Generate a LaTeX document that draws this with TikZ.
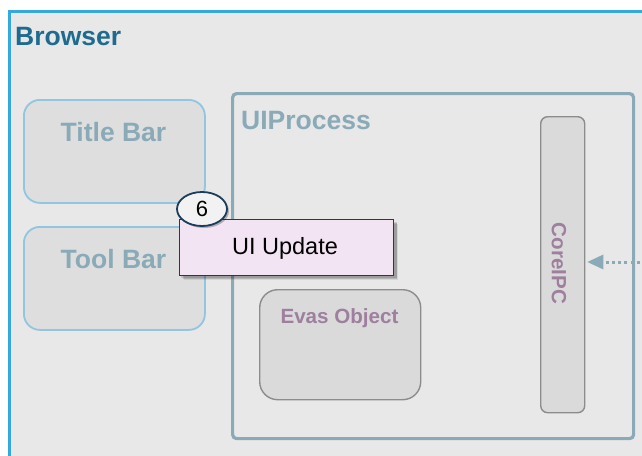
\documentclass[tikz,border=0pt]{standalone}
\usepackage{fontspec}
\setmainfont{Liberation Sans}
\usetikzlibrary{shadows,arrows.meta,shapes.geometric}
\definecolor{bgfill}{HTML}{E8E8E8}
\definecolor{outerblue}{HTML}{35A8DE}
\definecolor{browsertxt}{HTML}{1E6B8F}
\definecolor{barline}{HTML}{92C5DE}
\definecolor{boxfill}{HTML}{DEDEDE}
\definecolor{procline}{HTML}{8AAAB8}
\definecolor{grayline}{HTML}{8C8C8C}
\definecolor{innerfill}{HTML}{DADADA}
\definecolor{purptxt}{HTML}{9E809E}
\definecolor{navy}{HTML}{1A3D5C}
\definecolor{pinkfill}{HTML}{F3E4F3}
\definecolor{circfill}{HTML}{F2F2F2}
\begin{document}
\begin{tikzpicture}[x=1pt,y=-1pt,
  barbox/.style={draw=barline, line width=1.8pt, fill=boxfill, rounded corners=16pt, inner sep=0pt},
  graybox/.style={draw=grayline, line width=1.4pt, fill=innerfill, inner sep=0pt},
  bartxt/.style={text=procline, font=\bfseries\fontsize{26.5}{30}\selectfont, inner sep=0pt},
  purp/.style={text=purptxt, font=\bfseries\fontsize{20.6}{23}\selectfont, inner sep=0pt},
  softshadow/.style={
    general shadow={shadow xshift=2.5pt, shadow yshift=-2.5pt, fill=black, opacity=0.12, shadow scale=1.01},
    general shadow={shadow xshift=3.5pt, shadow yshift=-3.5pt, fill=black, opacity=0.15},
    general shadow={shadow xshift=4.5pt, shadow yshift=-4.5pt, fill=black, opacity=0.08}},
]
\useasboundingbox (0,0) rectangle (642,455);
\clip (0,0) rectangle (642,455);
\fill[white] (0,0) rectangle (642,455);
% Browser frame
\node[draw=outerblue, line width=3pt, fill=bgfill, anchor=north west, minimum width=660pt, minimum height=470pt, inner sep=0pt] (browser) at (7.5,9.5) {};
\node[anchor=west, text=browsertxt, font=\bfseries\fontsize{26.5}{30}\selectfont, inner sep=0pt] (browsertext) at (15,37) {Browser};
% Title bar and tool bar
\node[barbox, anchor=north west, minimum width=181pt, minimum height=103pt] (titlebar) at (23,99) {};
\node[bartxt] (titletext) at (113.5,132) {Title Bar};
\node[barbox, anchor=north west, minimum width=181pt, minimum height=103pt] (toolbar) at (23,226) {};
\node[bartxt] (tooltext) at (113.5,259) {Tool Bar};
% UIProcess
\node[draw=procline, line width=3.2pt, rounded corners=4pt, anchor=north west, minimum width=401pt, minimum height=345pt, inner sep=0pt] (uiproc) at (231,92) {};
\node[bartxt, anchor=west] (uiproctext) at (241,121) {UIProcess};
% CoreIPC
\node[graybox, rounded corners=7pt, anchor=north west, minimum width=44pt, minimum height=296pt] (coreipc) at (540,116) {};
\node[purp, rotate=-90] (coreipctext) at (559,263.5) {CoreIPC};
% Evas Object
\node[graybox, rounded corners=18pt, anchor=north west, minimum width=161pt, minimum height=110pt] (evas) at (259,289) {};
\node[purp] (evastext) at (339.5,318) {Evas Object};
% dotted arrow
\coordinate (src) at (646,262);
\draw[procline, line width=3pt, dash pattern=on 3pt off 3.2pt, -{Triangle[length=16pt,width=15pt,line width=0pt]}] (src) -- ([xshift=2pt]coreipc.east |- src);
% UI Update
\node[draw=navy, line width=1.6pt, fill=pinkfill, anchor=north west, minimum width=214pt, minimum height=56pt, inner sep=0pt,
  softshadow] (uiupdate) at (178.5,218.5) {};
\node[text=black, font=\fontsize{23.5}{26}\selectfont, inner sep=0pt] (uiupdatetext) at (285,248) {UI Update};
% step circle
\node[draw=navy, line width=1.8pt, fill=circfill, ellipse, minimum width=50pt, minimum height=34pt, inner sep=0pt,
  drop shadow={shadow xshift=2pt, shadow yshift=-2pt, fill=black, opacity=0.25}] (six) at (202,209) {};
\node[font=\fontsize{22}{24}\selectfont, inner sep=0pt] (sixtext) at (202,209) {6};
\end{tikzpicture}
\end{document}
